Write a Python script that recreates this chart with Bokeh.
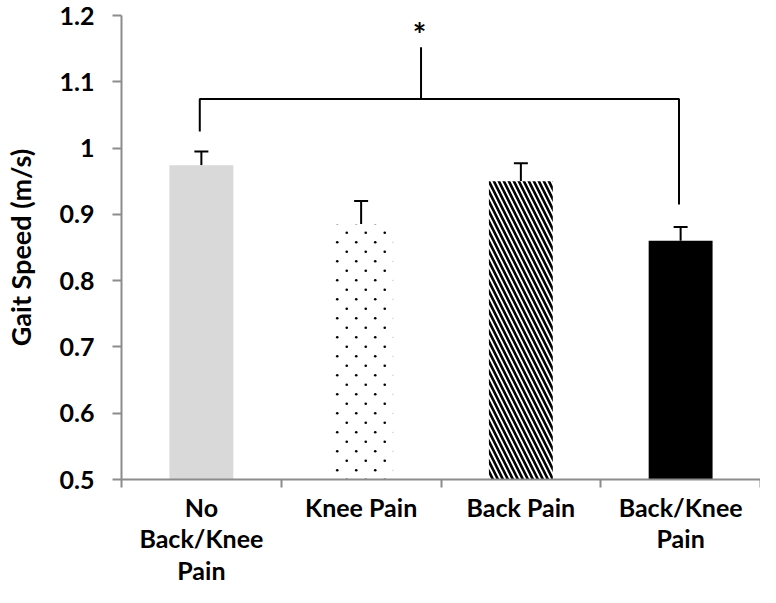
import base64
from bokeh.plotting import figure
from bokeh.models import ColumnDataSource, FixedTicker, Whisker, TeeHead, Range1d, ImageURLTexture
from bokeh.core.properties import value
from bokeh.embed import file_html
from bokeh.resources import INLINE

categories = ["No\nBack/Knee\nPain", "Knee Pain", "Back Pain", "Back/Knee\nPain"]
gait_speed = [0.974, 0.885, 0.950, 0.860]
gait_error = [0.021, 0.035, 0.027, 0.021]

y_ticks = [0.5, 0.6, 0.7, 0.8, 0.9, 1.0, 1.1, 1.2]
y_tick_labels = ["0.5", "0.6", "0.7", "0.8", "0.9", "1", "1.1", "1.2"]

# significance bracket (data coords)
bracket_x = [0.49, 0.49, 3.49, 3.49]
bracket_y = [1.025, 1.074, 1.074, 0.915]
stem_x = [1.875, 1.875]
stem_y = [1.074, 1.152]
star_x = [1.865]
star_y = [1.172]
star_text = ["*"]

# styles
bar_colors = ["#d9d9d9", "white", "white", "black"]
bar_hatches = [" ", "stagger_dots", "\\", " "]
hatch_scales = [12, 19, 10, 12]
hatch_weights = [1, 1, 2.6, 1]

FONT = "Lato"
x_pos = [i + 0.5 for i in range(len(categories))]

tile_svg = ('<svg xmlns="http://www.w3.org/2000/svg" width="19" height="19">'
            '<rect width="19" height="19" fill="white"/>'
            '<circle cx="4.75" cy="4.75" r="1.3" fill="black"/>'
            '<circle cx="14.25" cy="14.25" r="1.3" fill="black"/></svg>')
tile_url = "data:image/svg+xml;base64," + base64.b64encode(tile_svg.encode()).decode()
dots_texture = ImageURLTexture(url=tile_url)

p = figure(width=760, height=587, output_backend="svg", toolbar_location=None,
           x_range=Range1d(0, 4), y_range=Range1d(0.5, 1.2),
           min_border_left=120, min_border_right=0, min_border_top=15, min_border_bottom=100)
p.outline_line_color = None
p.grid.visible = False
p.background_fill_color = "white"

src = ColumnDataSource(dict(x=x_pos, top=gait_speed, color=bar_colors, hatch=bar_hatches,
                            hscale=hatch_scales, hweight=hatch_weights,
                            upper=[v + e for v, e in zip(gait_speed, gait_error)]))

p.vbar(x="x", top="top", bottom=0.5, width=0.4, source=src, fill_color="color",
       line_color=None, hatch_pattern="hatch", hatch_color="black",
       hatch_scale="hscale", hatch_weight="hweight",
       hatch_extra={"stagger_dots": dots_texture})

w = Whisker(base="x", upper="upper", lower="top", source=src, dimension="height",
            line_color="black", line_width=2,
            upper_head=TeeHead(size=14, line_width=2, line_color="black"), lower_head=None)
p.add_layout(w)

p.line(bracket_x, bracket_y, line_color="black", line_width=2)
p.line(stem_x, stem_y, line_color="black", line_width=2)
p.text(star_x, star_y, text=star_text, text_font=value(FONT), text_font_style="bold",
       text_font_size="32px", text_align="center", text_baseline="middle", text_color="black")

# x axis
p.xaxis.ticker = FixedTicker(ticks=x_pos, minor_ticks=[0, 1, 2, 3, 4])
p.xaxis.major_label_overrides = {x: c for x, c in zip(x_pos, categories)}
p.xaxis.major_tick_out = 0
p.xaxis.major_tick_in = 0
p.xaxis.minor_tick_out = 8
p.xaxis.minor_tick_in = 0
p.xaxis.major_label_standoff = 4
p.xaxis.major_label_text_font = FONT
p.xaxis.major_label_text_font_style = "bold"
p.xaxis.major_label_text_font_size = "25px"
p.xaxis.major_label_text_line_height = 1.05
p.xaxis.major_label_text_color = "black"

# y axis
p.yaxis.ticker = FixedTicker(ticks=y_ticks)
p.yaxis.major_label_overrides = {t: l for t, l in zip(y_ticks, y_tick_labels)}
p.yaxis.major_tick_out = 9
p.yaxis.major_tick_in = 0
p.yaxis.minor_tick_line_color = None
p.yaxis.major_label_standoff = 18
p.yaxis.major_label_text_font = FONT
p.yaxis.major_label_text_font_style = "bold"
p.yaxis.major_label_text_font_size = "25px"
p.yaxis.major_label_text_color = "black"
p.yaxis.axis_label = "Gait Speed (m/s)"
p.yaxis.axis_label_text_font = FONT
p.yaxis.axis_label_text_font_style = "bold"
p.yaxis.axis_label_text_font_size = "27px"
p.yaxis.axis_label_standoff = 20
p.yaxis.axis_label_text_color = "black"

for ax in (p.xaxis, p.yaxis):
    ax.axis_line_color = "#8c8c8c"
    ax.axis_line_width = 2
    ax.major_tick_line_color = "#8c8c8c"
    ax.major_tick_line_width = 2
    ax.minor_tick_line_width = 2
p.xaxis.minor_tick_line_color = "#8c8c8c"

open("out.html", "w").write(file_html(p, INLINE))
